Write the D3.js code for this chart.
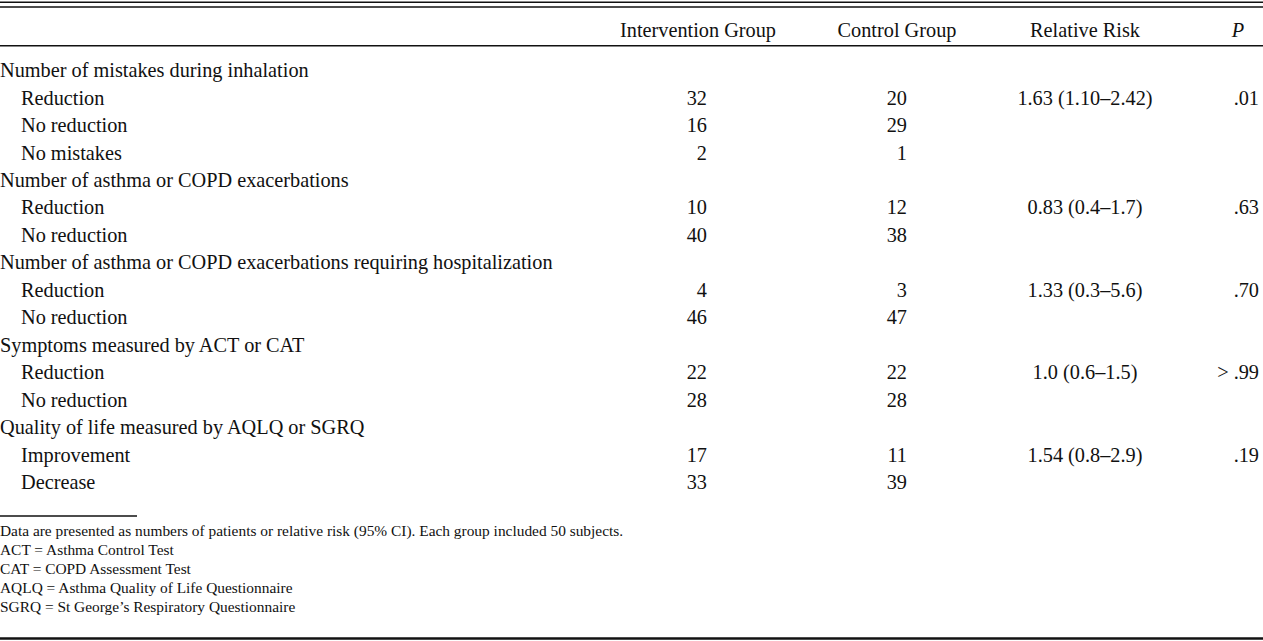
<!DOCTYPE html>
<html><head><meta charset="utf-8">
<script src="https://cdn.jsdelivr.net/npm/d3@7"></script>
<style>html,body{margin:0;padding:0;background:#fff;}svg{display:block;}</style>
</head><body>
<svg id="c" width="1263" height="641"></svg>
<script>
const columns = ["Intervention Group", "Control Group", "Relative Risk", "P"];
const sections = [
  "Number of mistakes during inhalation",
  "Number of asthma or COPD exacerbations",
  "Number of asthma or COPD exacerbations requiring hospitalization",
  "Symptoms measured by ACT or CAT",
  "Quality of life measured by AQLQ or SGRQ"
];
const rowLabels = [
  ["Reduction", "No reduction", "No mistakes"],
  ["Reduction", "No reduction"],
  ["Reduction", "No reduction"],
  ["Reduction", "No reduction"],
  ["Improvement", "Decrease"]
];
const intervention = [[32, 16, 2], [10, 40], [4, 46], [22, 28], [17, 33]];
const control = [[20, 29, 1], [12, 38], [3, 47], [22, 28], [11, 39]];
const relativeRisk = ["1.63 (1.10–2.42)", "0.83 (0.4–1.7)", "1.33 (0.3–5.6)", "1.0 (0.6–1.5)", "1.54 (0.8–2.9)"];
const pValues = [".01", ".63", ".70", "> .99", ".19"];
const footnotes = [
  "Data are presented as numbers of patients or relative risk (95% CI). Each group included 50 subjects.",
  "ACT = Asthma Control Test",
  "CAT = COPD Assessment Test",
  "AQLQ = Asthma Quality of Life Questionnaire",
  "SGRQ = St George’s Respiratory Questionnaire"
];

// Flatten rows
const rows = [];
sections.forEach((s, i) => {
  rows.push({type: "section", label: s});
  rowLabels[i].forEach((l, j) => {
    rows.push({type: "item", label: l, iv: intervention[i][j], cv: control[i][j],
      rr: j === 0 ? relativeRisk[i] : "", p: j === 0 ? pValues[i] : ""});
  });
});

const svg = d3.select("#c");
const W = 1263;
const font = "'Liberation Serif','Times New Roman',serif";
const fs = 20.3;

const y = d3.scalePoint().domain(d3.range(rows.length)).range([70, 482]);
const colX = {iv: 707, cv: 907, rr: 1085, p: 1259};
const headX = [698, 897, 1085, 1238];

const rule = (x1, x2, yy, w) => svg.append("line").attr("x1", x1).attr("x2", x2)
  .attr("y1", yy).attr("y2", yy).attr("stroke", "#111").attr("stroke-width", w);
rule(0, W, 2.3, 1.6);
rule(0, W, 7, 1.6);
rule(0, W, 45.7, 1.6);
rule(0, 137, 516, 1.5);
rule(0, W, 638.5, 2.4);

const g = svg.append("g").attr("font-family", font).attr("font-size", fs).attr("fill", "#111");

// header
g.selectAll("text.head").data(columns).join("text")
  .attr("class", "head")
  .attr("x", (d, i) => headX[i]).attr("y", 30).attr("dy", "0.35em")
  .attr("text-anchor", "middle")
  .attr("font-style", (d, i) => i === 3 ? "italic" : null)
  .text(d => d);

// rows
const rg = g.selectAll("g.row").data(rows).join("g").attr("class", "row")
  .attr("transform", (d, i) => `translate(0,${y(i)})`);
rg.append("text").attr("x", d => d.type === "section" ? 0 : 21).attr("dy", "0.35em").text(d => d.label);
const items = rg.filter(d => d.type === "item");
items.append("text").attr("x", colX.iv).attr("dy", "0.35em").attr("text-anchor", "end").text(d => d.iv);
items.append("text").attr("x", colX.cv).attr("dy", "0.35em").attr("text-anchor", "end").text(d => d.cv);
items.append("text").attr("x", colX.rr).attr("dy", "0.35em").attr("text-anchor", "middle").text(d => d.rr);
items.append("text").attr("x", colX.p).attr("dy", "0.35em").attr("text-anchor", "end").text(d => d.p);

// footnotes
const fy = d3.scalePoint().domain(d3.range(footnotes.length)).range([531, 607]);
g.selectAll("text.fn").data(footnotes).join("text").attr("class", "fn")
  .attr("x", 0).attr("y", (d, i) => fy(i)).attr("dy", "0.35em")
  .attr("font-size", 15.4).text(d => d);
</script>
</body></html>
